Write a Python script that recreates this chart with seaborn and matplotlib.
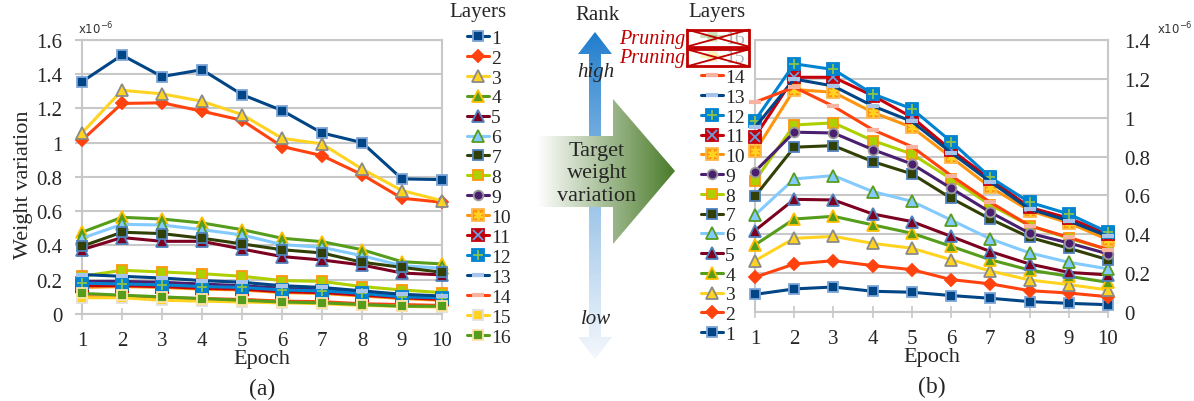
import numpy as np
import seaborn as sns
import matplotlib.pyplot as plt
from matplotlib.patches import Polygon, Rectangle
from matplotlib.lines import Line2D
from matplotlib.colors import to_rgb

sns.set_theme(style="white")
plt.rcParams['font.family'] = ['Liberation Serif', 'DejaVu Serif']
plt.rcParams['mathtext.fontset'] = 'dejavusans'

# Data (weight variation, x1e-6)
epochs = [1, 2, 3, 4, 5, 6, 7, 8, 9, 10]

# (a) before pruning, layers 1..16
a_l1 = [1.355, 1.51, 1.385, 1.425, 1.28, 1.187, 1.056, 1.0, 0.788, 0.784]
a_l2 = [1.014, 1.228, 1.232, 1.183, 1.13, 0.977, 0.924, 0.813, 0.675, 0.652]
a_l3 = [1.056, 1.305, 1.284, 1.241, 1.163, 1.025, 0.992, 0.846, 0.72, 0.661]
a_l4 = [0.477, 0.564, 0.554, 0.531, 0.492, 0.442, 0.422, 0.375, 0.305, 0.292]
a_l5 = [0.375, 0.446, 0.424, 0.424, 0.379, 0.335, 0.315, 0.286, 0.239, 0.228]
a_l6 = [0.442, 0.523, 0.519, 0.492, 0.461, 0.405, 0.389, 0.34, 0.282, 0.267]
a_l7 = [0.395, 0.477, 0.469, 0.442, 0.409, 0.375, 0.356, 0.302, 0.272, 0.243]
a_l8 = [0.22, 0.255, 0.245, 0.235, 0.22, 0.195, 0.19, 0.16, 0.14, 0.125]
a_l9 = [0.19, 0.19, 0.185, 0.175, 0.165, 0.15, 0.14, 0.125, 0.11, 0.1]
a_l10 = [0.155, 0.16, 0.155, 0.145, 0.14, 0.125, 0.12, 0.105, 0.09, 0.08]
a_l11 = [0.165, 0.165, 0.16, 0.15, 0.145, 0.13, 0.125, 0.11, 0.095, 0.085]
a_l12 = [0.18, 0.175, 0.17, 0.16, 0.155, 0.14, 0.135, 0.12, 0.1, 0.095]
a_l13 = [0.23, 0.22, 0.21, 0.195, 0.185, 0.165, 0.155, 0.135, 0.115, 0.105]
a_l14 = [0.1, 0.1, 0.095, 0.09, 0.085, 0.075, 0.072, 0.06, 0.055, 0.05]
a_l15 = [0.095, 0.095, 0.08, 0.075, 0.07, 0.065, 0.06, 0.05, 0.045, 0.04]
a_l16 = [0.12, 0.11, 0.1, 0.09, 0.08, 0.07, 0.065, 0.055, 0.045, 0.045]

# (b) target weight variation, layers 1..14 (15, 16 pruned)
b_l1 = [0.092, 0.12, 0.13, 0.108, 0.103, 0.086, 0.072, 0.055, 0.046, 0.039]
b_l2 = [0.18, 0.248, 0.265, 0.24, 0.219, 0.168, 0.146, 0.111, 0.099, 0.08]
b_l3 = [0.265, 0.38, 0.39, 0.354, 0.329, 0.27, 0.212, 0.166, 0.142, 0.115]
b_l4 = [0.346, 0.479, 0.493, 0.449, 0.406, 0.339, 0.27, 0.217, 0.185, 0.154]
b_l5 = [0.42, 0.58, 0.577, 0.505, 0.466, 0.39, 0.312, 0.248, 0.205, 0.192]
b_l6 = [0.5, 0.685, 0.702, 0.62, 0.57, 0.474, 0.377, 0.305, 0.257, 0.223]
b_l7 = [0.596, 0.848, 0.856, 0.774, 0.711, 0.586, 0.479, 0.385, 0.329, 0.27]
b_l8 = [0.676, 0.962, 0.973, 0.882, 0.813, 0.685, 0.551, 0.445, 0.38, 0.322]
b_l9 = [0.723, 0.925, 0.921, 0.836, 0.762, 0.637, 0.514, 0.406, 0.356, 0.3]
b_l10 = [0.827, 1.144, 1.13, 1.027, 0.95, 0.796, 0.642, 0.522, 0.459, 0.373]
b_l11 = [0.902, 1.207, 1.207, 1.113, 1.002, 0.834, 0.685, 0.539, 0.483, 0.402]
b_l12 = [0.985, 1.276, 1.247, 1.122, 1.045, 0.877, 0.693, 0.565, 0.505, 0.411]
b_l13 = [0.95, 1.198, 1.162, 1.06, 0.98, 0.82, 0.67, 0.53, 0.47, 0.39]
b_l14 = [1.079, 1.156, 1.058, 0.938, 0.851, 0.702, 0.565, 0.445, 0.385, 0.322]

layers_a = [a_l1, a_l2, a_l3, a_l4, a_l5, a_l6, a_l7, a_l8,
            a_l9, a_l10, a_l11, a_l12, a_l13, a_l14, a_l15, a_l16]
layers_b = [b_l1, b_l2, b_l3, b_l4, b_l5, b_l6, b_l7,
            b_l8, b_l9, b_l10, b_l11, b_l12, b_l13, b_l14]
layer_names = [str(i) for i in range(1, 17)]

# Styles per layer
line_cols = ['#004586', '#ff420e', '#ffd320', '#579d1c', '#7e0021', '#83caff',
             '#314004', '#aecf00', '#4b1f6f', '#ff950e', '#c5000b', '#0084d1',
             '#004586', '#ff420e', '#ffd320', '#579d1c']
marks = ['s', 'D', '^', '^', '^', '^', 's', 's', 'o', 's', 's', 's', '_', '_', 's', 's']
face_cols = ['#004586', '#ff420e', '#ffd320', '#579d1c', '#7e0021', '#83caff',
             '#314004', '#aecf00', '#4b1f6f', '#ff950e', '#c5000b', '#0084d1',
             '#a9c4eb', '#f8b3a0', '#ffd320', '#579d1c']
edge_cols = ['#7ea6d8', '#ff420e', '#8a8a8a', '#ffbf00', '#4f81bd', '#579d1c',
             '#4f81bd', '#ff950e', '#9a9a9a', '#ffb84d', '#c5000b', '#0084d1',
             '#a9c4eb', '#f8b3a0', '#e0e0e0', '#ffe3a8']
over_marks = [None, None, None, None, None, None, None, None, None,
              (6, 2, 0), 'x', '+', None, None, None, None]
over_cols = [None] * 9 + ['#ffd320', '#6d9fe0', '#8bc34a'] + [None] * 4
mark_sizes = [7, 6, 8, 8, 8, 8, 7, 7, 7, 8, 8, 8, 8, 8, 7, 7]

grid_col = '#c8c8c8'


def draw_layer(ax, vals, i):
    sns.lineplot(x=epochs, y=vals, ax=ax, color=line_cols[i], marker=marks[i],
                 markersize=mark_sizes[i], markerfacecolor=face_cols[i],
                 markeredgecolor=edge_cols[i], markeredgewidth=1.3 if marks[i] != '_' else 3,
                 linewidth=2.2, zorder=3 + i * 0.1, clip_on=False)
    h = ax.lines[-1]
    if over_marks[i] is not None:
        sns.lineplot(x=epochs, y=vals, ax=ax, color=over_cols[i], marker=over_marks[i],
                     linestyle='', markersize=mark_sizes[i] - 1, markeredgewidth=1.3,
                     markeredgecolor=over_cols[i], zorder=3 + i * 0.1 + 0.05, clip_on=False)
        h = (h, ax.lines[-1])
    return h


def style_axis(ax, ymax):
    ax.set_xlim(1, 10)
    ax.set_ylim(0, ymax)
    ax.set_xticks(epochs)
    ax.set_yticks(np.arange(0, ymax + 0.01, 0.2))
    ax.set_yticklabels(['{:g}'.format(round(v, 1)) for v in np.arange(0, ymax + 0.01, 0.2)])
    ax.yaxis.grid(True, color=grid_col, linewidth=1.5)
    ax.xaxis.grid(False)
    for s in ax.spines.values():
        s.set_color(grid_col)
        s.set_linewidth(1.5)
    ax.tick_params(axis='x', direction='inout', length=8, width=1.2, color=grid_col,
                   labelsize=15, pad=8, bottom=True)
    ax.set_facecolor('white')


fig = plt.figure(figsize=(11.94, 4.02), dpi=100)
W, H = 1194.0, 402.0

# ---------- panel (a) ----------
ax_a = fig.add_axes([82 / W, 1 - 315 / H, 360 / W, 274.3 / H])
handles_a = [draw_layer(ax_a, layers_a[i], i) for i in range(16)]
style_axis(ax_a, 1.6)
ax_a.tick_params(axis='y', direction='out', length=5, width=1.5, color=grid_col,
                 labelsize=15, pad=9, left=True)
ax_a.set_ylabel('Weight variation', fontsize=16)
ax_a.yaxis.set_label_coords(-0.136, 0.474)
ax_a.set_xlabel('Epoch', fontsize=16)
ax_a.xaxis.set_label_coords(0.5, -0.128)
ax_a.text(-0.012, 1.012, r'x10$^{-6}$', transform=ax_a.transAxes, fontsize=8.5,
          family='DejaVu Sans', ha='left', va='bottom', color='#333333')
fig.text(262 / W, 1 - 389 / H, '(a)', ha='center', va='center', fontsize=17)

fig.text(478 / W, 1 - 13 / H, 'Layers', ha='center', va='center', fontsize=15)
leg_a = fig.legend(handles_a, layer_names, loc='upper left',
                   bbox_to_anchor=(467 / W, 1 - 30 / H), frameon=False, fontsize=14,
                   labelspacing=0.12, handlelength=1.15, handletextpad=0.1,
                   borderpad=0, borderaxespad=0)

# ---------- panel (b) ----------
ax_b = fig.add_axes([755 / W, 1 - 313.3 / H, 353 / W, 272.6 / H])
handles_b = [draw_layer(ax_b, layers_b[i], i) for i in range(14)]
style_axis(ax_b, 1.4)
ax_b.yaxis.tick_right()
ax_b.tick_params(axis='y', length=0, labelsize=15, pad=12, right=True, left=False)
ax_b.set_xlabel('Epoch', fontsize=16)
ax_b.xaxis.set_label_coords(0.5, -0.128)
ax_b.text(1.138, 1.012, r'x10$^{-6}$', transform=ax_b.transAxes, fontsize=8.5,
          family='DejaVu Sans', ha='left', va='bottom', color='#333333')
fig.text(932 / W, 1 - 387 / H, '(b)', ha='center', va='center', fontsize=17)

fig.text(717 / W, 1 - 13 / H, 'Layers', ha='center', va='center', fontsize=15)
pruned = [Line2D([], [], color=line_cols[i], alpha=0.3, linewidth=2.2, marker=marks[i],
                 markersize=mark_sizes[i], markerfacecolor=face_cols[i],
                 markeredgecolor=edge_cols[i]) for i in (15, 14)]
leg_b = fig.legend(pruned + handles_b[::-1], ['16', '15'] + layer_names[:14][::-1],
                   loc='upper left', bbox_to_anchor=(701 / W, 1 - 30 / H), frameon=False,
                   fontsize=14, labelspacing=0.11, handlelength=1.15, handletextpad=0.1,
                   borderpad=0, borderaxespad=0)
for t in leg_b.get_texts()[:2]:
    t.set_color('#b0b0b0')

# ---------- middle arrows ----------
ax_m = fig.add_axes([0, 0, 1, 1], zorder=-1)
ax_m.set_axis_off()

top_c = np.array(to_rgb('#1a7acc'))
bot_c = np.array(to_rgb('#f3f7fc'))
t = np.linspace(0, 1, 200) ** 0.8
grad_v = (top_c[None, :] * (1 - t[:, None]) + bot_c[None, :] * t[:, None])[:, None, :]
blue_pts = [(595, 33), (612, 55), (601, 55), (601, 338), (612, 338), (595, 360),
            (578, 338), (589, 338), (589, 55), (578, 55)]
blue_poly = Polygon(blue_pts, closed=True, facecolor='none', edgecolor='none')
ax_m.add_patch(blue_poly)
im_b = ax_m.imshow(grad_v, extent=(578, 612, 360, 33), aspect='auto', zorder=1)
im_b.set_clip_path(blue_poly)

left_c = np.array(to_rgb('#ffffff'))
right_c = np.array(to_rgb('#4a7b2a'))
s = np.linspace(0, 1, 200)
grad_h = (left_c[None, :] * (1 - s[:, None]) + right_c[None, :] * s[:, None])[None, :, :]
green_pts = [(537, 137), (613, 137), (613, 100), (675, 172), (613, 245), (613, 208), (537, 208)]
green_poly = Polygon(green_pts, closed=True, facecolor='none', edgecolor='none')
ax_m.add_patch(green_poly)
im_g = ax_m.imshow(grad_h, extent=(537, 675, 245, 100), aspect='auto', zorder=2)
im_g.set_clip_path(green_poly)
ax_m.set_xlim(0, W)
ax_m.set_ylim(H, 0)

ax_m.text(597, 15, 'Rank', ha='center', va='center', fontsize=15, zorder=3)
ax_m.text(596, 72, 'high', ha='center', va='center', fontsize=15, style='italic', zorder=3)
ax_m.text(596, 320, 'low', ha='center', va='center', fontsize=15, style='italic', zorder=3)
ax_m.text(597, 174, 'Target\nweight\nvariation', ha='center', va='center', fontsize=16,
          linespacing=1.25, zorder=3)

# ---------- pruning marks on legend (b) ----------
fig.canvas.draw()
rend = fig.canvas.get_renderer()
inv = fig.transFigure.inverted()
for t_ in leg_b.get_texts()[:2]:
    bb = t_.get_window_extent(rend)
    yc = (bb.y0 + bb.y1) / 2
    x0, x1 = 687, 749
    (fx0, fy0) = inv.transform((x0, yc - 8.5))
    (fx1, fy1) = inv.transform((x1, yc + 8.5))
    fig.add_artist(Rectangle((fx0, fy0), fx1 - fx0, fy1 - fy0, transform=fig.transFigure,
                             facecolor='none', edgecolor='#c00000', linewidth=2, zorder=10))
    fig.add_artist(Line2D([fx0, fx1], [fy0, fy1], transform=fig.transFigure,
                          color='#c00000', linewidth=1.3, zorder=10))
    fig.add_artist(Line2D([fx0, fx1], [fy1, fy0], transform=fig.transFigure,
                          color='#c00000', linewidth=1.3, zorder=10))
    fig.text(fx0 - 1.5 / W, (fy0 + fy1) / 2, 'Pruning', ha='right', va='center',
             color='#c00000', fontsize=14.5, style='italic')

fig.savefig('out.png', dpi=100, facecolor='white')
